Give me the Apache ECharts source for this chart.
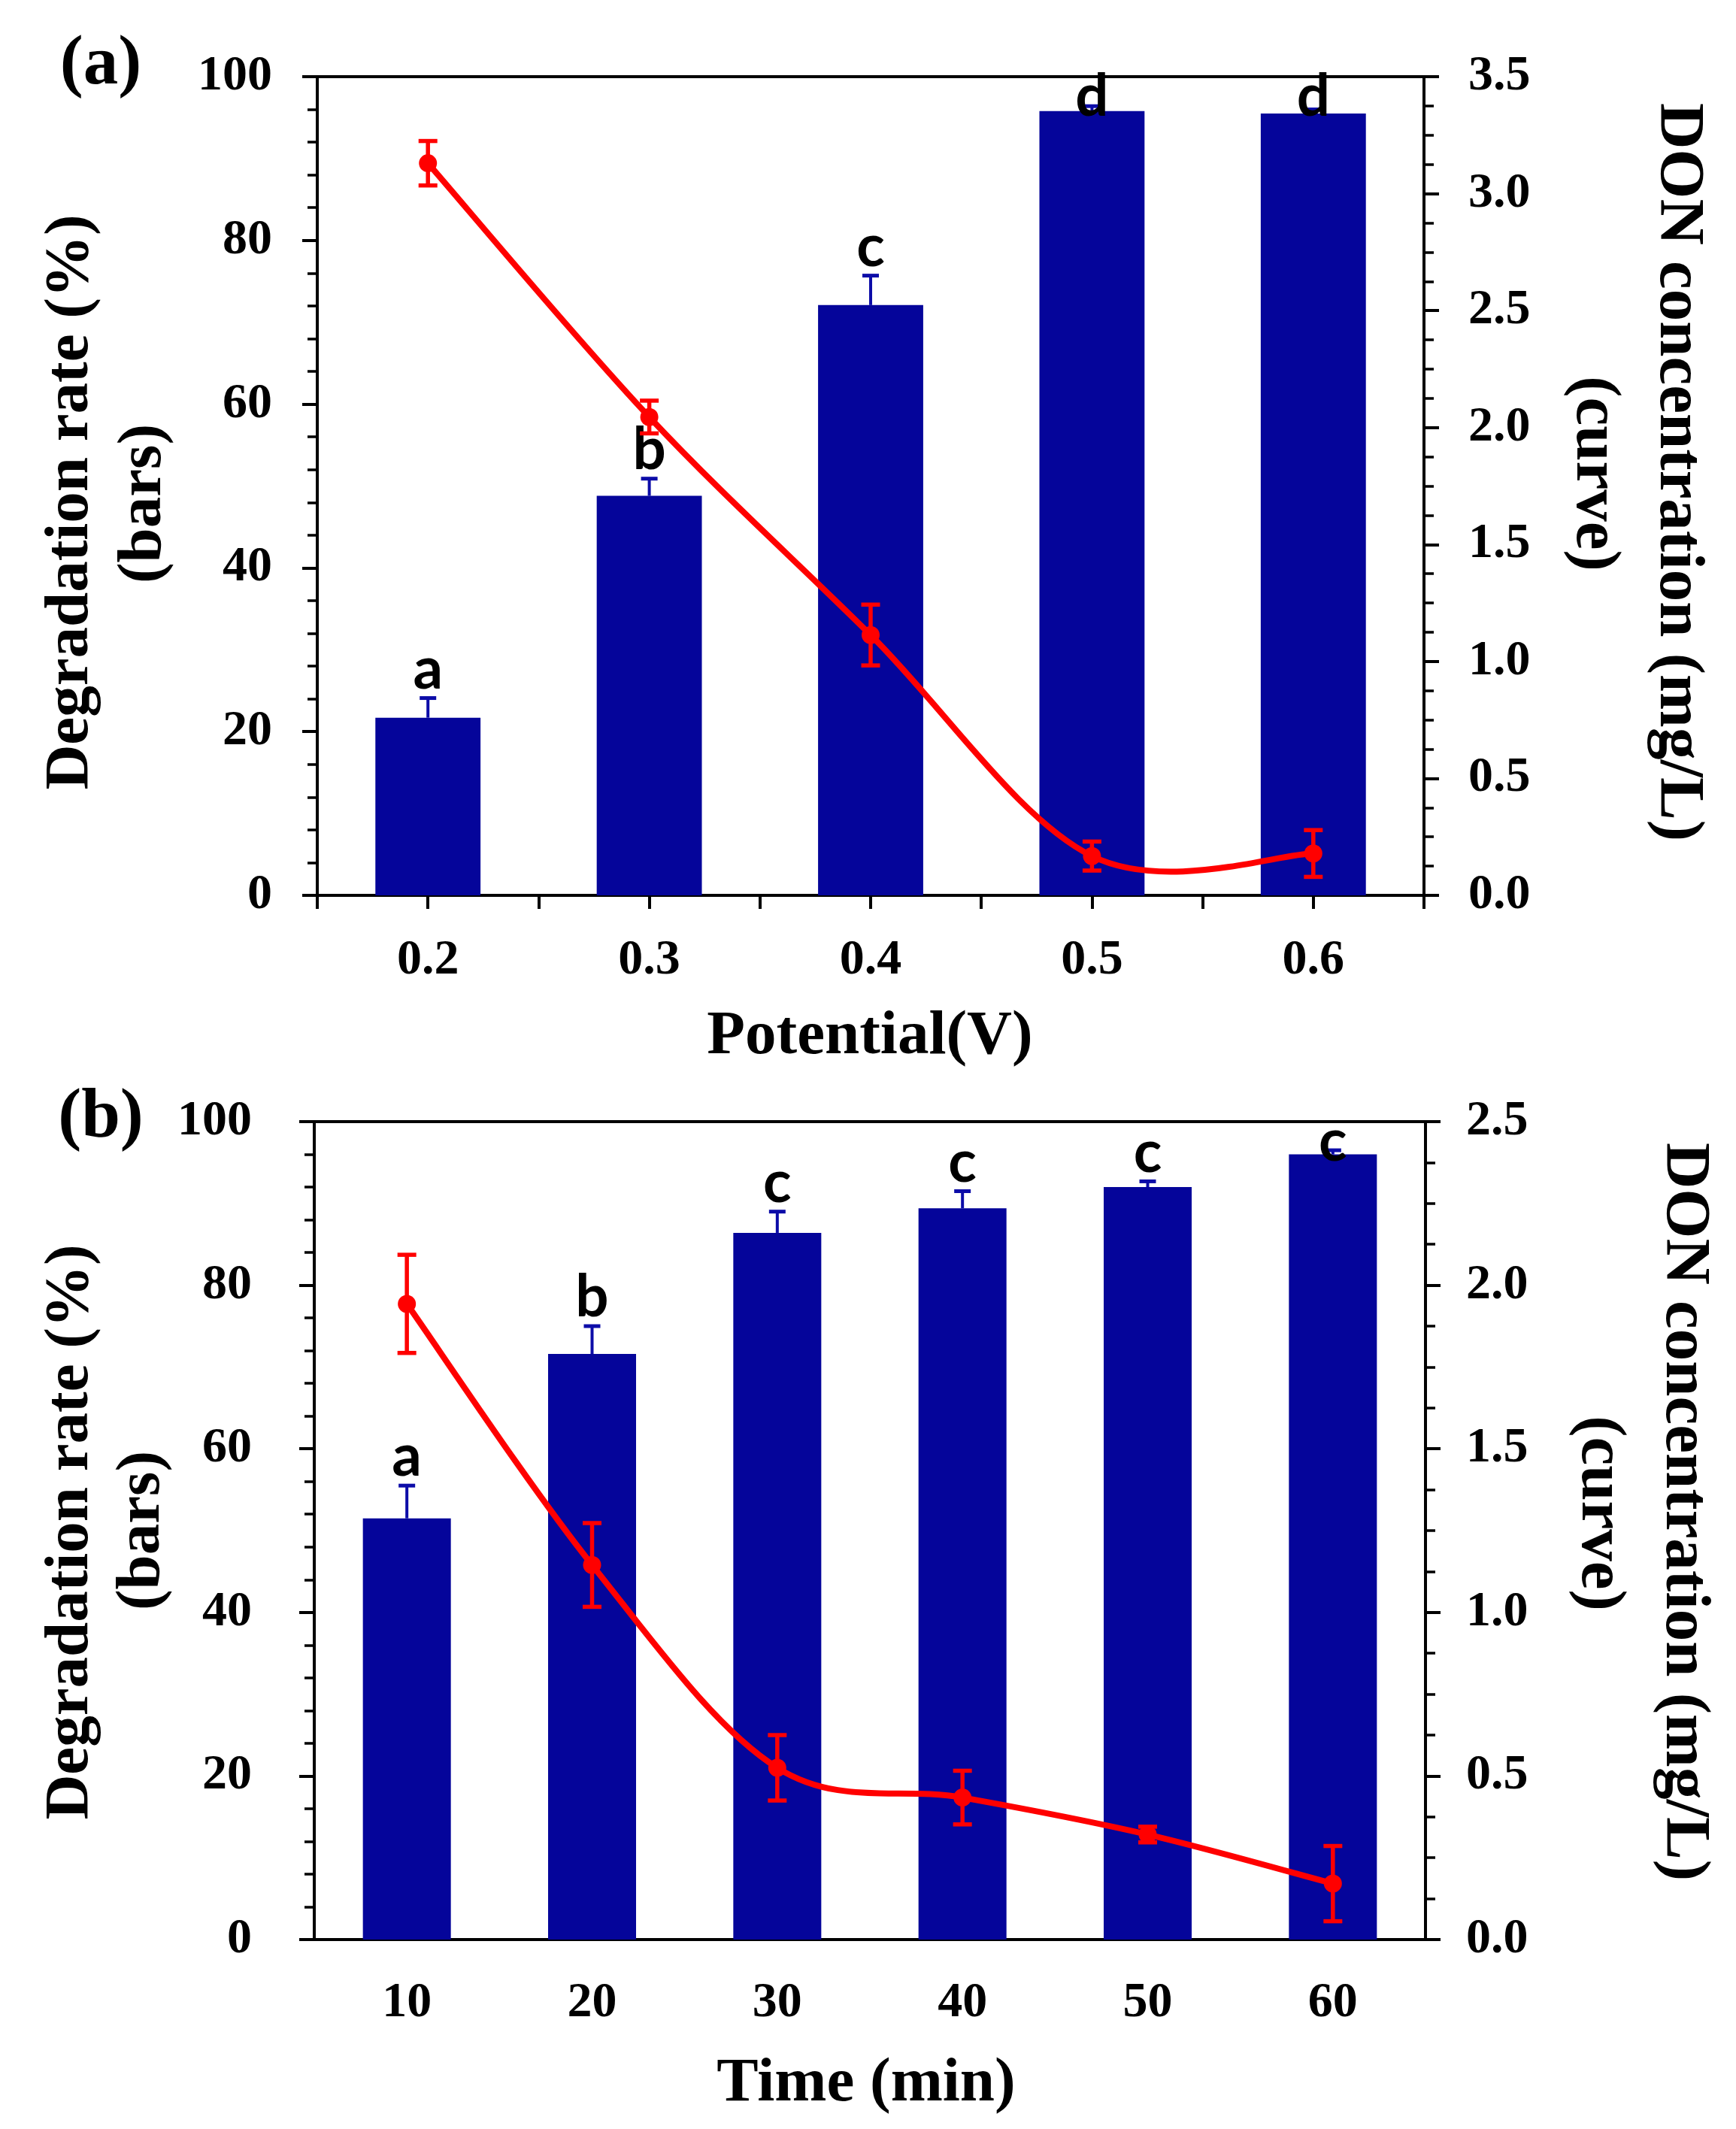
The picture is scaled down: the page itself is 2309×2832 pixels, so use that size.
<!DOCTYPE html>
<html><head><meta charset="utf-8">
<script src="https://cdn.jsdelivr.net/npm/echarts@6/dist/echarts.min.js"></script>
<style>html,body{margin:0;padding:0;background:#fff}#c{width:2309px;height:2832px}</style>
</head><body><div id="c"></div>
<script>
// ---------- data ----------
const potentialCategories = ['0.2', '0.3', '0.4', '0.5', '0.6'];
const potentialRate = [21.7, 48.8, 72.1, 95.8, 95.5];
const potentialRateErr = [2.4, 2.1, 3.6, 0.6, 0.5];
const potentialLetters = ['a', 'b', 'c', 'd', 'd'];
const potentialDON = [3.13, 2.045, 1.113, 0.168, 0.179];
const potentialDONErr = [0.095, 0.07, 0.13, 0.062, 0.1];

const timeCategories = ['10', '20', '30', '40', '50', '60'];
const timeRate = [51.5, 71.6, 86.4, 89.4, 92.0, 96.0];
const timeRateErr = [4.0, 3.4, 2.6, 2.1, 0.7, 0.5];
const timeLetters = ['a', 'b', 'c', 'c', 'c', 'c'];
const timeDON = [1.943, 1.145, 0.525, 0.434, 0.321, 0.171];
const timeDONErr = [0.15, 0.128, 0.1, 0.082, 0.024, 0.115];

const rateTicks = [0, 20, 40, 60, 80, 100];
const potentialDONTicks = [0, 0.5, 1.0, 1.5, 2.0, 2.5, 3.0, 3.5];
const timeDONTicks = [0, 0.5, 1.0, 1.5, 2.0, 2.5];

// ---------- styles ----------
const BAR = '#05059A';
const BAR_ERR = '#0C0CA8';
const RED = '#FF0000';
const SERIF = '"Liberation Serif", "Times New Roman", serif';
const AXW = 4;

function valAxis(gridIndex, ticks, position, margin, minorSplit, decimals) {
  return {
    type: 'value', gridIndex: gridIndex, position: position,
    min: ticks[0], max: ticks[ticks.length - 1], interval: ticks[1] - ticks[0],
    axisLine: { show: true, onZero: false, lineStyle: { color: '#000', width: AXW } },
    axisTick: { show: true, inside: false, length: 20, lineStyle: { color: '#000', width: AXW } },
    minorTick: { show: true, splitNumber: minorSplit, length: 13, lineStyle: { color: '#000', width: 3.5 } },
    splitLine: { show: false }, minorSplitLine: { show: false },
    axisLabel: {
      show: true, margin: margin, color: '#000', fontFamily: SERIF, fontWeight: 'bold', fontSize: 66,
      formatter: function (v) { return decimals ? v.toFixed(decimals) : String(v); }
    }
  };
}
function catAxis(gridIndex, data, margin) {
  return {
    type: 'category', gridIndex: gridIndex, data: data, boundaryGap: true, position: 'bottom',
    axisLine: { show: true, onZero: false, lineStyle: { color: '#000', width: AXW } },
    axisTick: { show: false }, splitLine: { show: false },
    axisLabel: { margin: margin, color: '#000', fontFamily: SERIF, fontWeight: 'bold', fontSize: 66 }
  };
}

function upErr(letters) {
  return function (params, api) {
    const i = api.value(0), v = api.value(1), e = api.value(2);
    const p0 = api.coord([i, v]);
    const p1 = api.coord([i, v + e]);
    const plotTop = params.coordSys.y;
    const ty = Math.max(p1[1] + 1, plotTop + 66);
    const half = 11;
    return {
      type: 'group', children: [
        { type: 'line', shape: { x1: p0[0], y1: p0[1], x2: p1[0], y2: p1[1] }, style: { stroke: BAR_ERR, lineWidth: 4 } },
        { type: 'line', shape: { x1: p1[0] - half, y1: p1[1], x2: p1[0] + half, y2: p1[1] }, style: { stroke: BAR_ERR, lineWidth: 5 } },
        { type: 'text', style: { text: letters[params.dataIndex], x: p1[0], y: ty, align: 'center', verticalAlign: 'bottom',
          font: 'bold 78px Lato, "Open Sans", sans-serif', fill: '#000' } }
      ]
    };
  };
}
function bothErr(params, api) {
  const i = api.value(0), v = api.value(1), e = api.value(2);
  const lo = api.coord([i, v - e]);
  const hi = api.coord([i, v + e]);
  const half = 12.5;
  const st = { stroke: RED, lineWidth: 5.5 };
  return {
    type: 'group', children: [
      { type: 'line', shape: { x1: lo[0], y1: lo[1], x2: hi[0], y2: hi[1] }, style: st },
      { type: 'line', shape: { x1: hi[0] - half, y1: hi[1], x2: hi[0] + half, y2: hi[1] }, style: st },
      { type: 'line', shape: { x1: lo[0] - half, y1: lo[1], x2: lo[0] + half, y2: lo[1] }, style: st }
    ]
  };
}
// Smooth curve (Catmull-Rom through the data points, via the axis scales) + round markers
function curve(values) {
  return function (params, api) {
    const n = values.length;
    const i = params.dataIndex;
    const P = function (j) { j = Math.max(0, Math.min(n - 1, j)); return api.coord([j, values[j]]); };
    const children = [];
    if (i < n - 1) {
      const p0 = P(i - 1), p1 = P(i), p2 = P(i + 1), p3 = P(i + 2);
      children.push({
        type: 'bezierCurve',
        shape: {
          x1: p1[0], y1: p1[1], x2: p2[0], y2: p2[1],
          cpx1: p1[0] + (p2[0] - p0[0]) / 6, cpy1: p1[1] + (p2[1] - p0[1]) / 6,
          cpx2: p2[0] - (p3[0] - p1[0]) / 6, cpy2: p2[1] - (p3[1] - p1[1]) / 6
        },
        style: { stroke: RED, lineWidth: 8, fill: null, lineCap: 'round' }
      });
    }
    const c = P(i);
    children.push({ type: 'circle', shape: { cx: c[0], cy: c[1], r: 12 }, style: { fill: RED } });
    return { type: 'group', children: children };
  };
}

function gridOpt(left, right, top, height) {
  return { left: left, right: right, top: top, height: height, containLabel: false, outerBoundsMode: 'none',
    show: true, borderColor: '#000', borderWidth: AXW, backgroundColor: 'transparent' };
}

function titleText(x, y, text, rot, size) {
  return { type: 'text', x: x, y: y, rotation: rot || 0,
    style: { text: text, font: 'bold ' + (size || 83) + 'px ' + SERIF, fill: '#000', align: 'center', verticalAlign: 'middle' } };
}

const option = {
  animation: false,
  backgroundColor: '#fff',
  grid: [gridOpt(422, 2309 - 1894, 102, 1089), gridOpt(418, 2309 - 1896, 1492, 1088)],
  xAxis: [
    catAxis(0, potentialCategories, 54),
    { type: 'value', gridIndex: 0, min: 0, max: potentialCategories.length * 2, interval: 1, position: 'bottom',
      axisLine: { show: false }, axisTick: { show: true, length: 18, lineStyle: { color: '#000', width: AXW } },
      axisLabel: { show: false }, splitLine: { show: false } },
    catAxis(1, timeCategories, 52)
  ],
  yAxis: [
    valAxis(0, rateTicks, 'left', 60, 5, 0),
    valAxis(0, potentialDONTicks, 'right', 59, 4, 1),
    valAxis(1, rateTicks, 'left', 83, 5, 0),
    valAxis(1, timeDONTicks, 'right', 54, 4, 1)
  ],
  series: [
    { type: 'bar', xAxisIndex: 0, yAxisIndex: 0, data: potentialRate, barWidth: '47.5%', itemStyle: { color: BAR }, z: 2 },
    { type: 'custom', xAxisIndex: 0, yAxisIndex: 0, renderItem: upErr(potentialLetters), z: 3,
      data: potentialRate.map(function (v, i) { return [i, v, potentialRateErr[i]]; }) },
    { type: 'custom', xAxisIndex: 0, yAxisIndex: 1, renderItem: curve(potentialDON), z: 4,
      data: potentialDON.map(function (v, i) { return [i, v]; }) },
    { type: 'custom', xAxisIndex: 0, yAxisIndex: 1, renderItem: bothErr, z: 5,
      data: potentialDON.map(function (v, i) { return [i, v, potentialDONErr[i]]; }) },

    { type: 'bar', xAxisIndex: 2, yAxisIndex: 2, data: timeRate, barWidth: '47.5%', itemStyle: { color: BAR }, z: 2 },
    { type: 'custom', xAxisIndex: 2, yAxisIndex: 2, renderItem: upErr(timeLetters), z: 3,
      data: timeRate.map(function (v, i) { return [i, v, timeRateErr[i]]; }) },
    { type: 'custom', xAxisIndex: 2, yAxisIndex: 3, renderItem: curve(timeDON), z: 4,
      data: timeDON.map(function (v, i) { return [i, v]; }) },
    { type: 'custom', xAxisIndex: 2, yAxisIndex: 3, renderItem: bothErr, z: 5,
      data: timeDON.map(function (v, i) { return [i, v, timeDONErr[i]]; }) }
  ],
  graphic: [
    titleText(134, 87, '(a)', 0, 93),
    titleText(134, 1488, '(b)', 0, 93),
    titleText(95, 668, 'Degradation rate (%)', Math.PI / 2),
    titleText(192, 670, '(bars)', Math.PI / 2),
    titleText(2231, 628, 'DON concentration (mg/L)', -Math.PI / 2, 85),
    titleText(2120, 630, '(curve)', -Math.PI / 2, 85),
    titleText(1157, 1380, 'Potential(V)', 0),
    titleText(95, 2038, 'Degradation rate (%)', Math.PI / 2),
    titleText(190, 2036, '(bars)', Math.PI / 2),
    titleText(2239, 2011, 'DON concentration (mg/L)', -Math.PI / 2, 85),
    titleText(2127, 2013, '(curve)', -Math.PI / 2, 85),
    titleText(1152, 2773, 'Time (min)', 0)
  ]
};

const chart = echarts.init(document.getElementById('c'), null, { renderer: 'canvas' });
chart.setOption(option);
</script>
</body></html>
